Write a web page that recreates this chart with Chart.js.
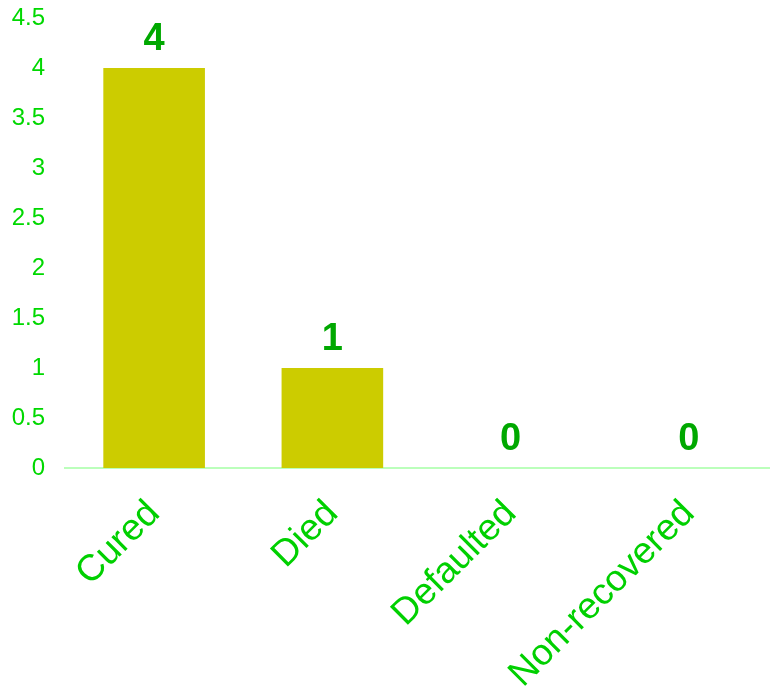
<!DOCTYPE html>
<html>
<head>
<meta charset="utf-8">
<script src="https://cdn.jsdelivr.net/npm/chart.js@4/dist/chart.umd.min.js"></script>
<style>
  html, body { margin: 0; padding: 0; background: #ffffff; overflow: hidden; }
  #wrap { position: relative; width: 778px; height: 689px; }
</style>
</head>
<body>
<div id="wrap"><canvas id="c" width="778" height="689"></canvas></div>
<script>
const categories = ["Cured", "Died", "Defaulted", "Non-recovered"];
const outcomeCounts = [4, 1, 0, 0];
const yTickValues = [0, 0.5, 1, 1.5, 2, 2.5, 3, 3.5, 4, 4.5];

const valueLabels = {
  id: 'valueLabels',
  afterDatasetsDraw(chart) {
    const ctx = chart.ctx;
    const meta = chart.getDatasetMeta(0);
    ctx.save();
    ctx.font = 'bold 38px "Liberation Sans", Arial, sans-serif';
    ctx.fillStyle = '#00a800';
    ctx.textAlign = 'center';
    ctx.textBaseline = 'alphabetic';
    meta.data.forEach((bar, i) => {
      ctx.fillText(String(chart.data.datasets[0].data[i]), bar.x, bar.y - 18);
    });
    ctx.restore();
  }
};

new Chart(document.getElementById('c'), {
  type: 'bar',
  data: {
    labels: categories,
    datasets: [{
      data: outcomeCounts,
      backgroundColor: '#cccc00',
      borderWidth: 0,
      categoryPercentage: 1.0,
      barPercentage: 0.57
    }]
  },
  options: {
    responsive: false,
    animation: false,
    layout: { padding: { top: 18, right: 0, bottom: 0, left: 0 } },
    plugins: { legend: { display: false }, tooltip: { enabled: false } },
    scales: {
      x: {
        grid: { display: false },
        border: { display: true, color: '#bbffbb', width: 2 },
        ticks: {
          color: '#00d000',
          font: { family: '"Liberation Sans", Arial, sans-serif', size: 37 },
          maxRotation: 45,
          minRotation: 45,
          padding: 16
        },
        afterFit(scale) { scale.height = 221; scale.paddingLeft = 0; scale.paddingRight = 0; }
      },
      y: {
        min: 0,
        max: 4.5,
        grid: { display: false },
        border: { display: false },
        afterBuildTicks(scale) { scale.ticks = yTickValues.map(v => ({ value: v })); },
        ticks: {
          color: '#00d800',
          font: { family: '"Liberation Sans", Arial, sans-serif', size: 24 },
          padding: 12,
          callback: (v) => String(v)
        },
        afterFit(scale) { scale.width = 65; scale.paddingTop = 0; scale.paddingBottom = 0; }
      }
    }
  },
  plugins: [valueLabels]
});
</script>
</body>
</html>
